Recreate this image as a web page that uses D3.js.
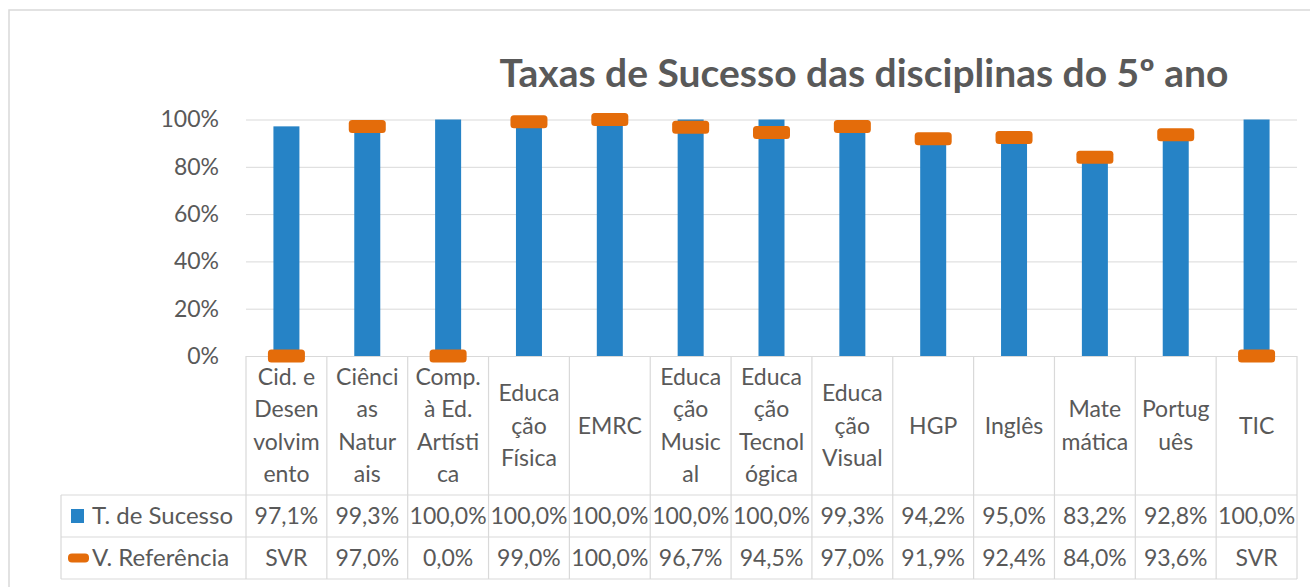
<!DOCTYPE html>
<html>
<head>
<meta charset="utf-8">
<script src="https://cdn.jsdelivr.net/npm/d3@7"></script>
<style>
  body { margin: 0; background: #fff; }
  text { font-family: Lato, "Open Sans", sans-serif; fill: #595959; }
</style>
</head>
<body>
<svg id="chart"></svg>
<script>
// dados
var categorias = ["Cid. e Desenvolvimento", "Ciências Naturais", "Comp. à Ed. Artística", "Educação Física", "EMRC",
    "Educação Musical", "Educação Tecnológica", "Educação Visual", "HGP", "Inglês", "Matemática", "Português", "TIC"]
var rotulos = [["Cid. e", "Desen", "volvim", "ento"], ["Ciênci", "as", "Natur", "ais"], ["Comp.", "à Ed.", "Artísti", "ca"],
    ["Educa", "ção", "Física"], ["EMRC"], ["Educa", "ção", "Music", "al"], ["Educa", "ção", "Tecnol", "ógica"],
    ["Educa", "ção", "Visual"], ["HGP"], ["Inglês"], ["Mate", "mática"], ["Portug", "uês"], ["TIC"]]
var sucesso = [97.1, 99.3, 100.0, 100.0, 100.0, 100.0, 100.0, 99.3, 94.2, 95.0, 83.2, 92.8, 100.0]
// null = SVR (sem valor de referência)
var referencia = [null, 97.0, 0.0, 99.0, 100.0, 96.7, 94.5, 97.0, 91.9, 92.4, 84.0, 93.6, null]
var yTicks = [0, 0.2, 0.4, 0.6, 0.8, 1]
var series = ["T. de Sucesso", "V. Referência"]

var width = 1310, height = 587
var azul = '#2683C6', laranja = '#E46C0A', grelha = '#D9D9D9'

var plot = { left: 246, right: 1297, top: 119.5, bottom: 356 }
var rowH = [495, 537, 579]
var legLeft = 61

var svg = d3.select('#chart')
    .attr('width', width)
    .attr('height', height)

// moldura
svg.append('rect')
    .attr('x', 9).attr('y', 10)
    .attr('width', width + 10).attr('height', height + 10)
    .attr('fill', 'none')
    .attr('stroke', grelha)
    .attr('stroke-width', 1.5)

// titulo
svg.append('text')
    .attr('x', 864)
    .attr('y', 87)
    .attr('text-anchor', 'middle')
    .style('font-size', '39px')
    .style('font-weight', 'bold')
    .text('Taxas de Sucesso das disciplinas do 5º ano')

var x = d3.scaleBand()
    .domain(categorias)
    .range([plot.left, plot.right])

var y = d3.scaleLinear()
    .domain([0, 1])
    .range([plot.bottom, plot.top])

// eixo y + grelha
var gy = svg.append('g')
    .attr('transform', `translate(${plot.left},0)`)
    .call(d3.axisLeft(y)
        .tickValues(yTicks)
        .tickFormat(d3.format('.0%'))
        .tickSize(-(plot.right - plot.left))
        .tickPadding(27))
gy.select('.domain').remove()
gy.selectAll('line').attr('stroke', grelha)
gy.selectAll('text')
    .style('font-size', '23px')
    .style('font-family', 'Lato, sans-serif')
    .attr('fill', '#595959')

// barras
var bw = 26
svg.selectAll('.barra')
    .data(sucesso)
    .enter()
    .append('rect')
    .attr('class', 'barra')
    .attr('x', (d, i) => x(categorias[i]) + x.bandwidth() / 2 - bw / 2)
    .attr('width', bw)
    .attr('y', d => y(d / 100))
    .attr('height', d => y(0) - y(d / 100))
    .attr('fill', azul)

// marcadores de referencia
var mw = 37, mh = 13
svg.selectAll('.marca')
    .data(referencia)
    .enter()
    .append('rect')
    .attr('class', 'marca')
    .attr('x', (d, i) => x(categorias[i]) + x.bandwidth() / 2 - mw / 2)
    .attr('y', d => y((d || 0) / 100) - mh / 2)
    .attr('width', mw)
    .attr('height', mh)
    .attr('rx', 3.5)
    .attr('fill', laranja)

// tabela de dados
var tabela = svg.append('g')
var linha = (x1, y1, x2, y2) => tabela.append('line')
    .attr('x1', x1).attr('y1', y1).attr('x2', x2).attr('y2', y2)
    .attr('stroke', grelha).attr('stroke-width', 1.2)

rowH.forEach(h => linha(legLeft, h, plot.right, h))
linha(legLeft, rowH[0], legLeft, rowH[2])
categorias.forEach(c => linha(x(c), plot.bottom, x(c), rowH[2]))
linha(plot.right, plot.bottom, plot.right, rowH[2])

// rotulos das categorias
var lh = 32.5
var cab = tabela.selectAll('.cat')
    .data(rotulos)
    .enter()
    .append('text')
    .attr('class', 'cat')
    .attr('text-anchor', 'middle')
    .style('font-size', '23px')
cab.each(function (linhas, i) {
    var cx = x(categorias[i]) + x.bandwidth() / 2
    var cy = (plot.bottom + rowH[0]) / 2 - (linhas.length - 1) * lh / 2
    d3.select(this).selectAll('tspan')
        .data(linhas)
        .enter()
        .append('tspan')
        .attr('x', cx)
        .attr('y', (t, j) => cy + j * lh)
        .attr('dy', '0.35em')
        .text(t => t)
})

var fmt = v => v.toFixed(1).replace('.', ',') + '%'

var linhasDados = [
    sucesso.map(fmt),
    referencia.map(v => v === null ? 'SVR' : fmt(v))
]
linhasDados.forEach(function (vals, r) {
    var cy = (rowH[r] + rowH[r + 1]) / 2
    tabela.selectAll('.val' + r)
        .data(vals)
        .enter()
        .append('text')
        .attr('x', (d, i) => x(categorias[i]) + x.bandwidth() / 2)
        .attr('y', cy)
        .attr('dy', '0.35em')
        .attr('text-anchor', 'middle')
        .style('font-size', '23px')
        .text(d => d)

    // legenda
    tabela.append('text')
        .attr('x', 92)
        .attr('y', cy)
        .attr('dy', '0.35em')
        .style('font-size', '24px')
        .text(series[r])
})

// simbolos da legenda
var cy0 = (rowH[0] + rowH[1]) / 2, cy1 = (rowH[1] + rowH[2]) / 2
tabela.append('rect')
    .attr('x', 71).attr('y', cy0 - 7)
    .attr('width', 13).attr('height', 14)
    .attr('fill', azul)
tabela.append('rect')
    .attr('x', 68).attr('y', cy1 - 4.5)
    .attr('width', 21).attr('height', 9)
    .attr('rx', 4)
    .attr('fill', laranja)
</script>
</body>
</html>
